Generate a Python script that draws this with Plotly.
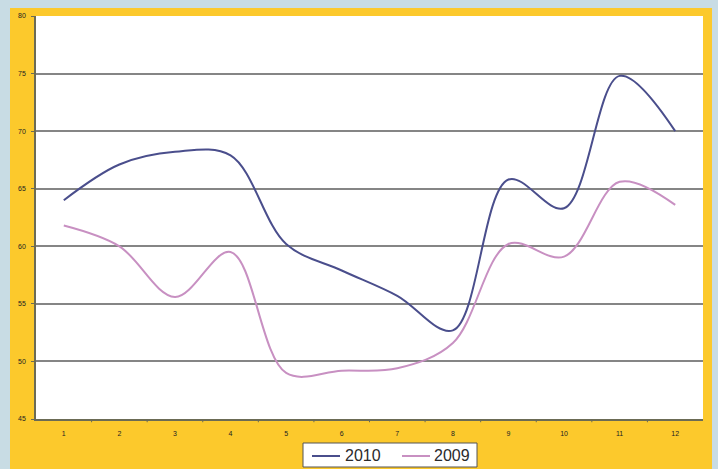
import plotly.graph_objects as go

# Monthly values for the two years
months = list(range(1, 13))
month_labels = [str(m) for m in months]
values_2010 = [64.0, 67.1, 68.2, 67.9, 60.2, 57.9, 55.7, 52.7, 65.8, 63.3, 74.8, 70.0]
values_2009 = [61.8, 60.0, 55.6, 59.5, 49.0, 49.2, 49.4, 51.6, 60.2, 59.1, 65.6, 63.6]
y_ticks = [45, 50, 55, 60, 65, 70, 75, 80]
series_names = ["2010", "2009"]
series_colors = ["#4a4e8c", "#c890c2"]

W, H = 718, 469
ML, MR, MT, MB = 36, 15, 16, 50
plot_w = W - ML - MR
plot_h = H - MT - MB


def px_to_paper_x(px):
    return (px - ML) / plot_w


def px_to_paper_y(py):
    return (H - MB - py) / plot_h


fig = go.Figure()

for name, vals, color in zip(series_names, [values_2010, values_2009], series_colors):
    fig.add_trace(go.Scatter(
        x=months, y=vals, name=name, mode="lines",
        line=dict(color=color, width=2, shape="spline", smoothing=1.0),
    ))

# Yellow frame behind the chart, then the white plotting panel on top of it
fig.add_shape(
    type="rect", xref="paper", yref="paper", layer="below",
    x0=px_to_paper_x(10), x1=px_to_paper_x(712),
    y0=px_to_paper_y(475), y1=px_to_paper_y(8),
    fillcolor="#fcc92c", line=dict(width=0),
)
fig.add_shape(
    type="rect", xref="paper", yref="paper", layer="below",
    x0=0, x1=1, y0=0, y1=1,
    fillcolor="#ffffff", line=dict(width=0),
)

# Compact legend box under the axis
fig.add_shape(
    type="rect", xref="paper", yref="paper",
    x0=px_to_paper_x(303), x1=px_to_paper_x(477),
    y0=px_to_paper_y(467), y1=px_to_paper_y(443),
    fillcolor="#ffffff", line=dict(color="#555555", width=1),
)
legend_items = [(312, 340, 343), (402, 430, 432)]
for (lx0, lx1, tx), name, color in zip(legend_items, series_names, series_colors):
    fig.add_shape(
        type="line", xref="paper", yref="paper",
        x0=px_to_paper_x(lx0), x1=px_to_paper_x(lx1),
        y0=px_to_paper_y(456), y1=px_to_paper_y(456),
        line=dict(color=color, width=2),
    )
    fig.add_annotation(
        xref="paper", yref="paper",
        x=px_to_paper_x(tx), y=px_to_paper_y(455.5),
        xanchor="left", yanchor="middle",
        text=name, showarrow=False,
        font=dict(size=16, color="#2a2a2a"),
    )

fig.update_layout(
    width=W, height=H,
    margin=dict(l=ML, r=MR, t=MT, b=MB, autoexpand=False),
    paper_bgcolor="#c8dce4",
    plot_bgcolor="#ffffff",
    font=dict(family="Arial, Liberation Sans, sans-serif", color="#333333"),
    showlegend=False,
    xaxis=dict(
        range=[0.5, 12.5],
        tickmode="array", tickvals=months, ticktext=month_labels,
        showgrid=False, zeroline=False,
        showline=True, linecolor="#6b6b55", linewidth=1.5,
        ticks="", ticklabelstandoff=7,
        tickfont=dict(size=7, color="#222222"),
        fixedrange=True,
    ),
    yaxis=dict(
        range=[45, 80],
        tickmode="array", tickvals=y_ticks,
        showgrid=True, gridcolor="#858585", gridwidth=2,
        zeroline=False,
        showline=True, linecolor="#6b6b55", linewidth=1.5,
        ticks="outside", ticklen=3, tickcolor="#6b6b55",
        ticklabelstandoff=4,
        tickfont=dict(size=7, color="#222222"),
        fixedrange=True,
    ),
)

# Category boundary tick marks along the bottom axis
for b in [m + 0.5 for m in months[:-1]]:
    fig.add_shape(
        type="line", xref="x", yref="paper",
        x0=b, x1=b, y0=0, y1=-0.008,
        line=dict(color="#6b6b55", width=1),
    )

fig.write_html("out.html")
